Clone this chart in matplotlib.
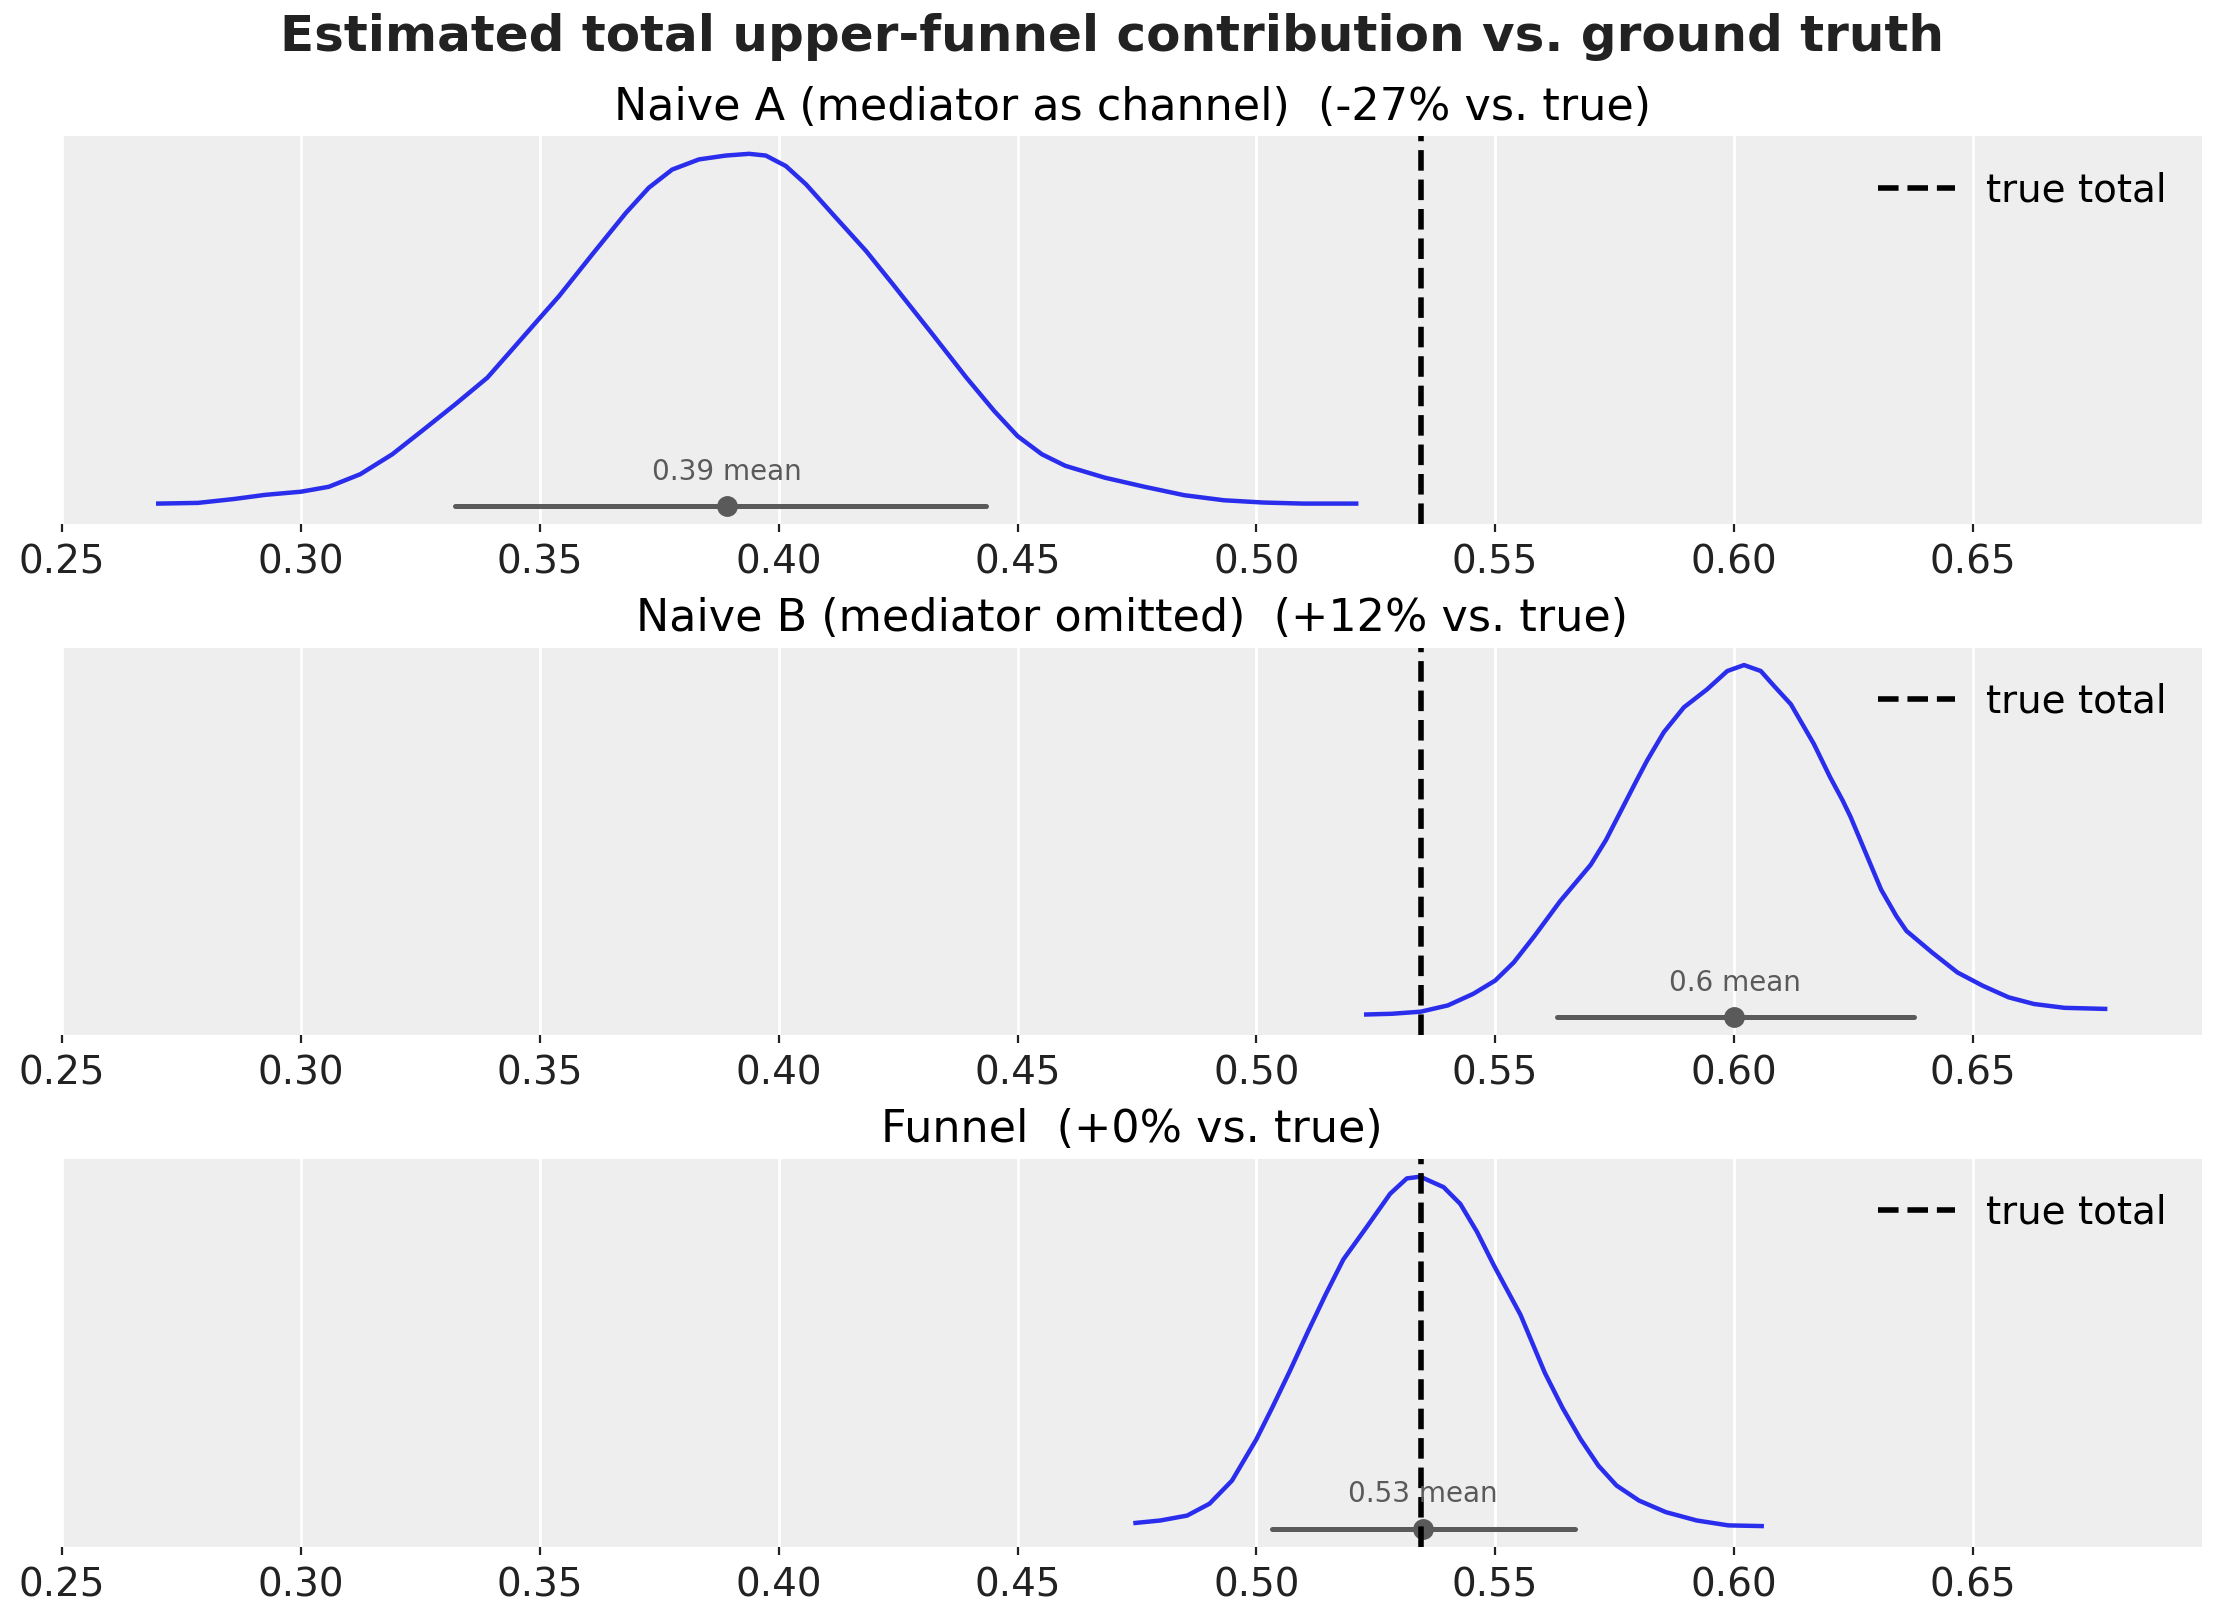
import matplotlib
import matplotlib.pyplot as plt

matplotlib.use("Agg")

TRUE_TOTAL = 0.5344

TITLES = [
    "Naive A (mediator as channel)  (-27% vs. true)",
    "Naive B (mediator omitted)  (+12% vs. true)",
    "Funnel  (+0% vs. true)",
]

# density curves (x, relative height with peak = 1)
naive_a_x = [0.2701, 0.2784, 0.2859, 0.2925, 0.3000, 0.3058, 0.3124, 0.3191, 0.3257,
             0.3323, 0.3390, 0.3439, 0.3500, 0.3540, 0.3610, 0.3680, 0.3728, 0.3777,
             0.3833, 0.3889, 0.3938, 0.3973, 0.4015, 0.4057, 0.4120, 0.4183, 0.4239,
             0.4322, 0.4393, 0.4451, 0.4500, 0.4551, 0.4600, 0.4683, 0.4766, 0.4849,
             0.4932, 0.5015, 0.5098, 0.5209]
naive_a_d = [0.000, 0.002, 0.013, 0.025, 0.034, 0.048, 0.084, 0.141, 0.212,
             0.284, 0.360, 0.436, 0.531, 0.593, 0.713, 0.831, 0.903, 0.955,
             0.984, 0.995, 1.000, 0.995, 0.965, 0.913, 0.817, 0.722, 0.627,
             0.484, 0.360, 0.265, 0.193, 0.141, 0.108, 0.074, 0.048, 0.024,
             0.0095, 0.003, 0.000, 0.000]

naive_b_x = [0.5230, 0.5283, 0.5344, 0.5401, 0.5454, 0.5500, 0.5539, 0.5582, 0.5636,
             0.5700, 0.5732, 0.5764, 0.5796, 0.5818, 0.5853, 0.5895, 0.5944, 0.5986,
             0.6021, 0.6056, 0.6084, 0.6119, 0.6167, 0.6201, 0.6227, 0.6244, 0.6276,
             0.6308, 0.6340, 0.6361, 0.6415, 0.6468, 0.6521, 0.6575, 0.6628, 0.6692,
             0.6777]
naive_b_d = [0.001, 0.003, 0.009, 0.027, 0.060, 0.098, 0.150, 0.225, 0.325,
             0.429, 0.500, 0.585, 0.670, 0.727, 0.808, 0.879, 0.931, 0.983,
             1.000, 0.983, 0.940, 0.888, 0.775, 0.680, 0.614, 0.566, 0.462,
             0.358, 0.282, 0.240, 0.178, 0.121, 0.083, 0.050, 0.031, 0.020,
             0.017]

funnel_x = [0.4747, 0.4799, 0.4855, 0.4902, 0.4949, 0.5000, 0.5033, 0.5070, 0.5108,
            0.5145, 0.5182, 0.5231, 0.5280, 0.5315, 0.5343, 0.5392, 0.5427, 0.5462,
            0.5497, 0.5553, 0.5604, 0.5641, 0.5679, 0.5716, 0.5754, 0.5801, 0.5857,
            0.5922, 0.5988, 0.6058]
funnel_d = [0.009, 0.016, 0.030, 0.064, 0.130, 0.248, 0.338, 0.443, 0.556,
            0.662, 0.762, 0.855, 0.950, 0.994, 0.999, 0.969, 0.921, 0.841,
            0.746, 0.604, 0.438, 0.338, 0.248, 0.173, 0.116, 0.073, 0.040,
            0.016, 0.002, 0.000]

means = [0.3891, 0.6001, 0.5348]
mean_labels = ["0.39", "0.6", "0.53"]
hdi_low = [0.3323, 0.5630, 0.5033]
hdi_high = [0.4435, 0.6377, 0.5667]

curves = [(naive_a_x, naive_a_d), (naive_b_x, naive_b_d), (funnel_x, funnel_d)]
xticks = [0.25, 0.30, 0.35, 0.40, 0.45, 0.50, 0.55, 0.60, 0.65]

fig, axes = plt.subplots(3, 1, figsize=(11.115, 8.115), dpi=200)
fig.subplots_adjust(left=0.028, right=0.9906, top=0.916, bottom=0.047, hspace=0.318)
fig.suptitle("Estimated total upper-funnel contribution vs. ground truth",
             fontsize=18, fontweight="bold", color="#222222", y=0.992)

for i, ax in enumerate(axes):
    xs, ds = curves[i]
    ax.set_facecolor("#eeeeee")
    for s in ax.spines.values():
        s.set_visible(False)
    ax.grid(axis="x", color="white", linewidth=1.0)
    ax.set_axisbelow(True)

    ax.plot(xs, ds, color="#2a2eec", linewidth=1.6, solid_joinstyle="round")
    ax.plot([hdi_low[i], hdi_high[i]], [-0.007, -0.007], color="#5a5a5a",
            linewidth=1.8, solid_capstyle="round")
    ax.plot(means[i], -0.007, "o", color="#5a5a5a", markersize=6.5)
    ax.text(means[i], 0.068, f"{mean_labels[i]} mean", ha="center", va="baseline",
            fontsize=10, color="#5a5a5a")
    ax.axvline(TRUE_TOTAL, color="black", linestyle="--", linewidth=2, label="true total")

    ax.set_xlim(0.25, 0.698)
    ax.set_ylim(-0.059, 1.05)
    ax.set_xticks(xticks)
    ax.set_xticklabels([f"{t:.2f}" for t in xticks])
    ax.set_yticks([])
    ax.tick_params(axis="x", labelsize=14, length=3, width=0.8, pad=4,
                   colors="#222222")
    ax.set_title(TITLES[i], fontsize=16)
    ax.legend(loc="upper right", frameon=False, fontsize=14)

fig.savefig("out.png", dpi=200)
